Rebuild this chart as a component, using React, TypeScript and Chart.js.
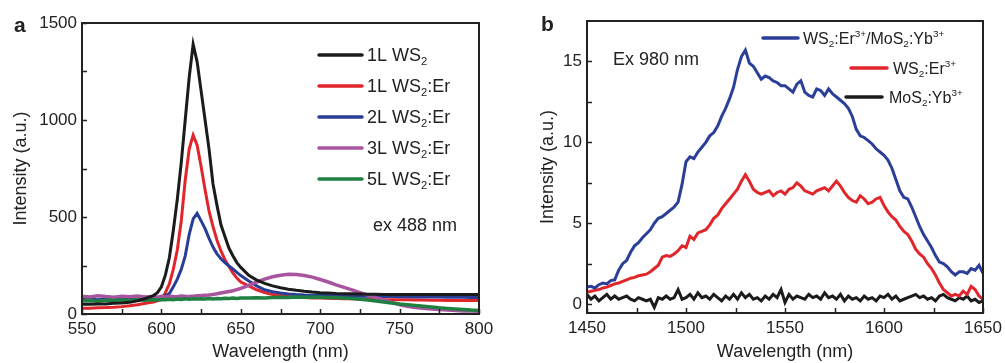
import React, { useEffect, useRef } from 'react';
import { Chart, registerables } from 'chart.js';

Chart.register(...registerables);

// ---------- Panel a data ----------
const wavelengthA = [
  550, 555, 560, 565, 570, 575, 580, 585, 590, 595,
  597.5, 600, 602.5, 605, 607.5, 610, 612.5, 615, 617.5, 620,
  622.5, 625, 627.5, 630, 632.5, 635, 637.5, 640, 642.5, 645,
  647.5, 650, 655, 660, 665, 670, 675, 680, 685, 690,
  695, 700, 705, 710, 715, 720, 725, 730, 735, 740,
  745, 750, 755, 760, 765, 770, 775, 780, 785, 790,
  795, 800,
];
const ws1L = [
  50, 50, 52, 52, 55, 57, 60, 68, 80, 95,
  110, 140, 200, 290, 430, 590, 780, 1000, 1220, 1390,
  1300, 1150, 1000, 850, 670, 560, 460, 400, 340, 300,
  265, 240, 200, 175, 158, 145, 135, 128, 122, 117,
  113, 110, 108, 106, 105, 104, 103, 102, 102, 101,
  101, 100, 100, 100, 100, 100, 100, 100, 100, 100,
  100, 100,
];
const ws1LEr = [
  30, 30, 32, 33, 35, 38, 42, 48, 55, 62,
  68, 75, 110, 155, 230, 330, 480, 690, 850, 922,
  870, 760, 640, 530, 450, 380, 325, 280, 245, 212,
  185, 165, 145, 125, 110, 100, 95, 90, 87, 85,
  83, 82, 81, 80, 79, 78, 77, 76, 75, 74,
  74, 73, 73, 72, 72, 71, 71, 70, 70, 70,
  70, 70,
];
const ws2LEr = [
  75, 76, 74, 77, 76, 78, 77, 79, 80, 82,
  84, 85, 95, 105, 140, 180, 230, 300, 410, 490,
  519, 480, 440, 390, 345, 310, 285, 265, 248, 232,
  215, 198, 170, 145, 125, 115, 108, 103, 100, 98,
  97, 96, 95, 94, 93, 92, 92, 91, 91, 90,
  90, 89, 89, 88, 88, 87, 87, 86, 86, 86,
  85, 85,
];
const ws3LEr = [
  92, 88, 94, 90, 87, 91, 89, 93, 88, 90,
  86, 91, 88, 92, 90, 89, 93, 91, 90, 92,
  94, 95, 97, 98, 101, 104, 108, 112, 116, 120,
  126, 132, 148, 165, 180, 192, 200, 205, 203, 198,
  190, 178, 165, 150, 137, 124, 110, 97, 84, 72,
  60, 48, 40, 34, 29, 26, 23, 20, 18, 16,
  15, 14,
];
const ws5LEr = [
  68, 70, 66, 71, 69, 72, 70, 73, 71, 74,
  72, 75, 73, 76, 74, 77, 75, 78, 76, 78,
  77, 79, 77, 80, 78, 80, 79, 81, 80, 82,
  80, 82, 83, 84, 83, 85, 86, 85, 87, 86,
  87, 86, 85, 84, 82, 80, 76, 72, 67, 62,
  57, 52, 48, 44, 40, 36, 32, 29, 26, 23,
  20, 18,
];
const labelsA = ['1L WS_2', '1L WS_2:Er', '2L WS_2:Er', '3L WS_2:Er', '5L WS_2:Er'];
const xMajorA = [550, 600, 650, 700, 750, 800];
const xMinorA = [575, 625, 675, 725, 775];
const yMajorA = [0, 500, 1000, 1500];
const yMinorA = [250, 750, 1250];

// ---------- Panel b data ----------
const wavelengthB = [
  1450, 1452, 1454, 1456, 1458, 1460, 1462, 1464, 1466, 1468,
  1470, 1472, 1474, 1476, 1478, 1480, 1482, 1484, 1486, 1488,
  1490, 1492, 1494, 1496, 1498, 1500, 1502, 1504, 1506, 1508,
  1510, 1512, 1514, 1516, 1518, 1520, 1522, 1524, 1526, 1528,
  1530, 1532, 1534, 1536, 1538, 1540, 1542, 1544, 1546, 1548,
  1550, 1552, 1554, 1556, 1558, 1560, 1562, 1564, 1566, 1568,
  1570, 1572, 1574, 1576, 1578, 1580, 1582, 1584, 1586, 1588,
  1590, 1592, 1594, 1596, 1598, 1600, 1602, 1604, 1606, 1608,
  1610, 1612, 1614, 1616, 1618, 1620, 1622, 1624, 1626, 1628,
  1630, 1632, 1634, 1636, 1638, 1640, 1642, 1644, 1646, 1648,
  1650,
];
const erMoYb = [
  1.05, 1.1, 1.0, 1.2, 1.3, 1.25, 1.45, 1.5, 2.1, 2.5,
  2.7, 3.2, 3.6, 3.8, 4.1, 4.35, 4.6, 5.0, 5.3, 5.4,
  5.6, 5.8, 6.0, 6.3, 7.4, 8.8, 9.1, 9.0, 9.4, 9.7,
  10.0, 10.4, 10.6, 11.0, 11.6, 12.1, 12.7, 13.4, 14.5, 15.3,
  15.7, 14.9, 14.7, 14.3, 13.9, 14.1, 14.0, 13.8, 13.7, 13.5,
  13.5, 13.3, 13.1, 13.6, 13.8, 13.1, 12.9, 12.8, 13.3, 13.2,
  12.9, 13.3, 13.0, 12.8, 12.6, 12.4, 12.1, 11.6, 10.8, 10.4,
  10.3, 10.1, 9.9, 9.6, 9.4, 9.2, 8.9, 8.4, 7.7, 7.0,
  6.6, 6.5, 6.0, 5.4, 4.8, 4.3, 3.9, 3.5, 3.0, 2.6,
  2.5, 2.3, 2.0, 1.8, 2.0, 2.0, 1.9, 2.2, 2.1, 2.4,
  1.9,
];
const wsEr = [
  0.75, 0.8, 0.85, 0.9, 1.0, 1.05, 1.15, 1.25, 1.3, 1.4,
  1.5, 1.6, 1.65, 1.75, 1.8, 1.85, 2.0, 2.2, 2.4, 2.9,
  3.0, 2.95, 3.1, 3.3, 3.6, 3.5, 4.2, 4.0, 4.4, 4.5,
  4.6, 4.9, 5.3, 5.5, 5.9, 6.2, 6.5, 6.8, 7.1, 7.6,
  8.0, 7.6, 7.1, 6.9, 6.8, 6.9, 7.0, 6.7, 6.9, 7.0,
  6.8, 7.1, 7.2, 7.5, 7.3, 7.0, 6.9, 6.8, 7.0, 7.1,
  7.2, 7.0, 7.3, 7.6, 7.3, 6.9, 6.6, 6.4, 6.3, 6.7,
  6.5, 6.2, 6.3, 6.5, 6.6, 6.1, 5.7, 5.4, 5.2, 4.8,
  4.5, 4.3, 3.9, 3.4, 3.1, 2.9, 2.5, 2.2, 1.8, 1.3,
  0.9, 0.7, 0.5, 0.6, 0.5, 0.8, 0.6, 1.1, 0.9, 0.5,
  0.3,
];
const moYb = [
  0.6, 0.3, 0.5, 0.2, 0.4, 0.6, 0.3, 0.5, 0.3, 0.4,
  0.5, 0.3, 0.2, 0.4, 0.3, 0.2, 0.3, -0.2, 0.4, 0.3,
  0.5, 0.3, 0.4, 0.9, 0.3, 0.4, 0.6, 0.3, 0.7, 0.4,
  0.5, 0.3, 0.6, 0.4, 0.2, 0.5, 0.3, 0.6, 0.3, 0.7,
  0.4, 0.6, 0.3, 0.4, 0.2, 0.5, 0.3, 0.6, 0.4, 0.9,
  0.1, 0.6, 0.3, 0.5, 0.4, 0.3, 0.6, 0.4, 0.5, 0.3,
  0.7, 0.4, 0.5, 0.3, 0.6, 0.2, 0.5, 0.3, 0.4, 0.2,
  0.5, 0.3, 0.4, 0.2, 0.5, 0.4, 0.6, 0.3, 0.5, 0.2,
  0.3, 0.4, 0.5, 0.6, 0.4, 0.5, 0.3, 0.4, 0.2, 0.5,
  0.6, 0.4, 0.3, 0.2, 0.4, 0.3, 0.5, 0.2, 0.3, 0.1,
  0.2,
];
const labelsB = ['WS_2:Er^{3+}/MoS_2:Yb^{3+}', 'WS_2:Er^{3+}', 'MoS_2:Yb^{3+}'];
const xMajorB = [1450, 1500, 1550, 1600, 1650];
const xMinorB = [1475, 1525, 1575, 1625];
const yMajorB = [0, 5, 10, 15];
const yMinorB = [2.5, 7.5, 12.5];

// ---------- helpers ----------
const FONT = '"Liberation Sans", Arial, Helvetica, sans-serif';
const INK = '#222';

function parseRich(s: string) {
  const segs: { t: string; m: 'n' | 'sub' | 'sup' }[] = [];
  let i = 0;
  let buf = '';
  const flush = () => {
    if (buf) { segs.push({ t: buf, m: 'n' }); buf = ''; }
  };
  while (i < s.length) {
    const c = s[i];
    if (c === '_' || c === '^') {
      flush();
      let t = '';
      if (s[i + 1] === '{') {
        const j = s.indexOf('}', i + 2);
        t = s.slice(i + 2, j);
        i = j + 1;
      } else {
        t = s[i + 1];
        i += 2;
      }
      segs.push({ t, m: c === '_' ? 'sub' : 'sup' });
    } else {
      buf += c;
      i++;
    }
  }
  flush();
  return segs;
}

function drawRich(ctx: CanvasRenderingContext2D, x: number, y: number, s: string, size: number) {
  ctx.textBaseline = 'alphabetic';
  ctx.textAlign = 'left';
  const base = y + size * 0.36;
  let cx = x;
  for (const seg of parseRich(s)) {
    const fs = seg.m === 'n' ? size : size * 0.62;
    const dy = seg.m === 'sub' ? size * 0.2 : seg.m === 'sup' ? -size * 0.42 : 0;
    ctx.font = `${fs}px ${FONT}`;
    ctx.fillText(seg.t, cx, base + dy);
    cx += ctx.measureText(seg.t).width;
  }
}

const framePlugin = {
  id: 'frame',
  afterDraw(chart: any, _args: any, opts: any) {
    const { ctx, chartArea: a, scales } = chart;
    ctx.save();
    ctx.strokeStyle = INK;
    ctx.lineWidth = 1.5;
    const tl = 5;
    for (const v of opts.xTicks as number[]) {
      const px = Math.round(scales.x.getPixelForValue(v)) + 0.5;
      ctx.beginPath();
      ctx.moveTo(px, a.bottom);
      ctx.lineTo(px, a.bottom - tl);
      ctx.stroke();
    }
    for (const v of opts.yTicks as number[]) {
      const py = Math.round(scales.y.getPixelForValue(v)) + 0.5;
      ctx.beginPath();
      ctx.moveTo(a.left, py);
      ctx.lineTo(a.left + tl, py);
      ctx.stroke();
    }
    ctx.lineWidth = 2;
    ctx.strokeRect(a.left, a.top, a.right - a.left, a.bottom - a.top);
    ctx.fillStyle = INK;
    for (const t of opts.texts) {
      ctx.font = t.font;
      ctx.textBaseline = 'middle';
      ctx.textAlign = 'left';
      ctx.fillText(t.text, t.x, t.y);
    }
    chart.data.datasets.forEach((ds: any, i: number) => {
      const it = opts.legend[i];
      ctx.strokeStyle = ds.borderColor;
      ctx.lineWidth = 3.5;
      ctx.lineCap = 'round';
      ctx.beginPath();
      ctx.moveTo(it.x1, it.y);
      ctx.lineTo(it.x2, it.y);
      ctx.stroke();
      ctx.fillStyle = INK;
      drawRich(ctx, it.tx, it.y, ds.label, opts.legendSize);
    });
    ctx.restore();
  },
};

function makeScales(o: {
  xMin: number; xMax: number; yMin: number; yMax: number;
  xMajor: number[]; xMinor: number[]; yMajor: number[]; yMinor: number[];
  yWidth: number; xHeight: number; yTitlePad: number;
}) {
  const tickFont = { family: FONT, size: 17 };
  const titleFont = { family: FONT, size: 18 };
  return {
    x: {
      type: 'linear' as const,
      min: o.xMin,
      max: o.xMax,
      grid: { display: false, drawTicks: false },
      border: { display: false },
      afterBuildTicks: (scale: any) => {
        scale.ticks = [...o.xMajor, ...o.xMinor].sort((p, q) => p - q).map((v) => ({ value: v }));
      },
      afterFit: (scale: any) => {
        scale.height = o.xHeight;
        scale.paddingLeft = 0;
        scale.paddingRight = 0;
      },
      ticks: {
        autoSkip: false,
        maxRotation: 0,
        padding: 5,
        color: INK,
        font: tickFont,
        callback: (v: any) => (o.xMajor.includes(Number(v)) ? String(v) : ''),
      },
      title: {
        display: true,
        text: 'Wavelength (nm)',
        color: INK,
        font: titleFont,
        padding: { top: 0, bottom: 0 },
      },
    },
    y: {
      type: 'linear' as const,
      min: o.yMin,
      max: o.yMax,
      grid: { display: false, drawTicks: false },
      border: { display: false },
      afterBuildTicks: (scale: any) => {
        scale.ticks = [...o.yMajor, ...o.yMinor].sort((p, q) => p - q).map((v) => ({ value: v }));
      },
      afterFit: (scale: any) => {
        scale.width = o.yWidth;
        scale.paddingTop = 0;
        scale.paddingBottom = 0;
      },
      ticks: {
        autoSkip: false,
        padding: 5,
        color: INK,
        font: tickFont,
        callback: (v: any) => (o.yMajor.includes(Number(v)) ? String(v) : ''),
      },
      title: {
        display: true,
        text: 'Intensity (a.u.)',
        color: INK,
        font: titleFont,
        padding: { top: o.yTitlePad, bottom: 0 },
      },
    },
  };
}

function series(xs: number[], ys: number[]) {
  return xs.map((x, i) => ({ x, y: ys[i] }));
}

function lineDs(label: string, xs: number[], ys: number[], color: string, width: number, order: number) {
  return {
    label,
    data: series(xs, ys),
    borderColor: color,
    backgroundColor: color,
    borderWidth: width,
    pointRadius: 0,
    tension: 0,
    fill: false,
    order,
  };
}

function configA(): any {
  const colors = ['#1b1b1b', '#e0262b', '#2a3d96', '#a8549f', '#1f8042'];
  const seriesA = [ws1L, ws1LEr, ws2LEr, ws3LEr, ws5LEr];
  return {
    type: 'line',
    data: {
      datasets: seriesA.map((s, i) =>
        lineDs(labelsA[i], wavelengthA, s, colors[i], i >= 3 ? 3.5 : 3, i === 0 ? 0 : 5 - i)
      ),
    },
    options: {
      responsive: false,
      animation: false,
      layout: { padding: { left: 0, right: 21, top: 23, bottom: 0 } },
      scales: makeScales({
        xMin: 550, xMax: 800, yMin: 0, yMax: 1500,
        xMajor: xMajorA, xMinor: xMinorA, yMajor: yMajorA, yMinor: yMinorA,
        yWidth: 82, xHeight: 49, yTitlePad: 10,
      }),
      plugins: {
        legend: { display: false },
        tooltip: { enabled: false },
        frame: {
          xTicks: [...xMajorA, ...xMinorA],
          yTicks: [...yMajorA, ...yMinorA],
          texts: [
            { text: 'a', x: 14, y: 26, font: `bold 21px ${FONT}` },
            { text: 'ex 488 nm', x: 373, y: 226, font: `18px ${FONT}` },
          ],
          legendSize: 18,
          legend: [
            { x1: 319, x2: 362, y: 55, tx: 367 },
            { x1: 319, x2: 362, y: 86, tx: 367 },
            { x1: 319, x2: 362, y: 117, tx: 367 },
            { x1: 319, x2: 362, y: 148, tx: 367 },
            { x1: 319, x2: 362, y: 179, tx: 367 },
          ],
        },
      },
    },
    plugins: [framePlugin],
  };
}

function configB(): any {
  const colors = ['#2c3f98', '#e0262b', '#1b1b1b'];
  const seriesB = [erMoYb, wsEr, moYb];
  return {
    type: 'line',
    data: {
      datasets: seriesB.map((s, i) => lineDs(labelsB[i], wavelengthB, s, colors[i], 3, i)),
    },
    options: {
      responsive: false,
      animation: false,
      layout: { padding: { left: 0, right: 22, top: 21, bottom: 0 } },
      scales: makeScales({
        xMin: 1450, xMax: 1650, yMin: -0.55, yMax: 17.5,
        xMajor: xMajorB, xMinor: xMinorB, yMajor: yMajorB, yMinor: yMinorB,
        yWidth: 87, xHeight: 50, yTitlePad: 37,
      }),
      plugins: {
        legend: { display: false },
        tooltip: { enabled: false },
        frame: {
          xTicks: [...xMajorB, ...xMinorB],
          yTicks: [...yMajorB, ...yMinorB],
          texts: [
            { text: 'b', x: 41, y: 25, font: `bold 21px ${FONT}` },
            { text: 'Ex 980 nm', x: 113, y: 60, font: `18px ${FONT}` },
          ],
          legendSize: 16,
          legend: [
            { x1: 263, x2: 298, y: 38, tx: 303 },
            { x1: 351, x2: 387, y: 68, tx: 393 },
            { x1: 346, x2: 382, y: 97, tx: 389 },
          ],
        },
      },
    },
    plugins: [framePlugin],
  };
}

function Panel({ make, width, height }: { make: () => any; width: number; height: number }) {
  const ref = useRef<HTMLCanvasElement>(null);
  useEffect(() => {
    const chart = new Chart(ref.current as HTMLCanvasElement, make());
    return () => chart.destroy();
  }, [make]);
  return <canvas ref={ref} width={width} height={height} style={{ display: 'block', width, height }} />;
}

export default function App() {
  return (
    <div
      style={{
        position: 'absolute',
        left: 0,
        top: 0,
        width: 1005,
        height: 363,
        display: 'flex',
        background: '#fff',
        overflow: 'hidden',
      }}
    >
      <Panel make={configA} width={500} height={363} />
      <Panel make={configB} width={505} height={363} />
    </div>
  );
}
